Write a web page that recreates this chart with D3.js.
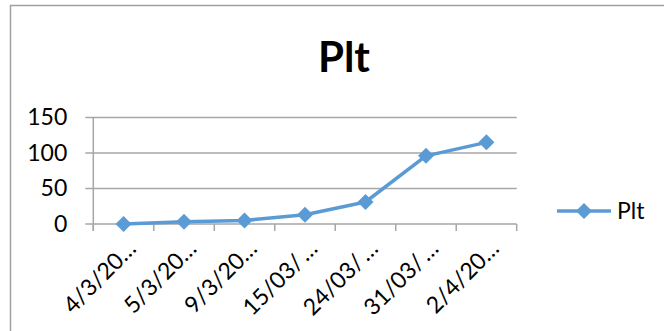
<!DOCTYPE html>
<html>
<head>
<meta charset="utf-8">
<script src="https://cdn.jsdelivr.net/npm/d3@7"></script>
<style>
  html, body { margin: 0; padding: 0; background: #fff; }
  svg { display: block; font-family: Lato, "Open Sans", sans-serif; }
</style>
</head>
<body>
<svg id="chart" width="664" height="331"></svg>
<script>
// Platelet count over the sampling dates
const categories = ["4/3/20\u2026", "5/3/20\u2026", "9/3/20\u2026", "15/03/\u2009\u2026", "24/03/\u2009\u2026", "31/03/\u2009\u2026", "2/4/20\u2026"];
const pltValues = [0, 3, 5, 13, 31, 96, 115];
const yTicks = [0, 50, 100, 150];
const seriesName = "Plt";
const chartTitle = "Plt";

const blue = "#5B9BD5";
const gridColor = "#a6a6a6";

const svg = d3.select("#chart");

// outer chart frame
svg.append("rect")
  .attr("x", 10.5).attr("y", 5.5)
  .attr("width", 720).attr("height", 400)
  .attr("fill", "#fff")
  .attr("stroke", "#a0a0a0")
  .attr("stroke-width", 1.5);

const plot = { left: 93.3, right: 516.7, top: 117.5, bottom: 224 };

const x = d3.scaleBand().domain(categories).range([plot.left, plot.right]);
const y = d3.scaleLinear().domain([0, 150]).range([plot.bottom, plot.top]);

// title
svg.append("text")
  .attr("x", 344).attr("y", 72)
  .attr("text-anchor", "middle")
  .attr("font-size", 42)
  .attr("font-weight", 700)
  .attr("fill", "#000")
  .text(chartTitle);

// horizontal gridlines
svg.append("g").selectAll("line")
  .data(yTicks)
  .join("line")
  .attr("x1", plot.left - 8).attr("x2", plot.right)
  .attr("y1", d => y(d)).attr("y2", d => y(d))
  .attr("stroke", gridColor)
  .attr("stroke-width", 1.5);

// y axis labels
const yAxis = d3.axisLeft(y).tickValues(yTicks).tickSize(0).tickPadding(0);
const gy = svg.append("g")
  .attr("transform", `translate(${plot.left - 26},0)`)
  .call(yAxis);
gy.select(".domain").remove();
gy.selectAll("text")
  .attr("font-family", "Lato, sans-serif")
  .attr("font-size", 23)
  .attr("fill", "#000");

// vertical axis line
svg.append("line")
  .attr("x1", plot.left).attr("x2", plot.left)
  .attr("y1", plot.top).attr("y2", plot.bottom + 7)
  .attr("stroke", gridColor).attr("stroke-width", 1.5);

// category boundary ticks
const boundaries = categories.map(c => x(c)).concat([plot.right]);
svg.append("g").selectAll("line")
  .data(boundaries)
  .join("line")
  .attr("x1", d => d).attr("x2", d => d)
  .attr("y1", plot.bottom).attr("y2", plot.bottom + 7)
  .attr("stroke", gridColor).attr("stroke-width", 1.5);

// rotated category labels
svg.append("g").selectAll("text")
  .data(categories)
  .join("text")
  .attr("transform", d => `translate(${x(d) + x.bandwidth() / 2 + 14},250) rotate(-45)`)
  .attr("text-anchor", "end")
  .attr("font-size", 23)
  .attr("fill", "#000")
  .text(d => d);

// series line
const cx = (d, i) => x(categories[i]) + x.bandwidth() / 2;
const line = d3.line().x(cx).y(d => y(d));
svg.append("path")
  .datum(pltValues)
  .attr("d", line)
  .attr("fill", "none")
  .attr("stroke", blue)
  .attr("stroke-width", 3.5)
  .attr("stroke-linejoin", "round");

// diamond markers
const diamond = r => `M0,${-r}L${r},0L0,${r}L${-r},0Z`;
svg.append("g").selectAll("path")
  .data(pltValues)
  .join("path")
  .attr("transform", (d, i) => `translate(${cx(d, i)},${y(d)})`)
  .attr("d", diamond(8))
  .attr("fill", blue);

// legend
const lg = svg.append("g").attr("transform", "translate(557,211)");
lg.append("line")
  .attr("x1", 0).attr("x2", 54)
  .attr("stroke", blue).attr("stroke-width", 3.5);
lg.append("path")
  .attr("transform", "translate(27,0)")
  .attr("d", diamond(8))
  .attr("fill", blue);
lg.append("text")
  .attr("x", 60).attr("y", 8)
  .attr("font-size", 23)
  .attr("fill", "#000")
  .text(seriesName);
</script>
</body>
</html>
